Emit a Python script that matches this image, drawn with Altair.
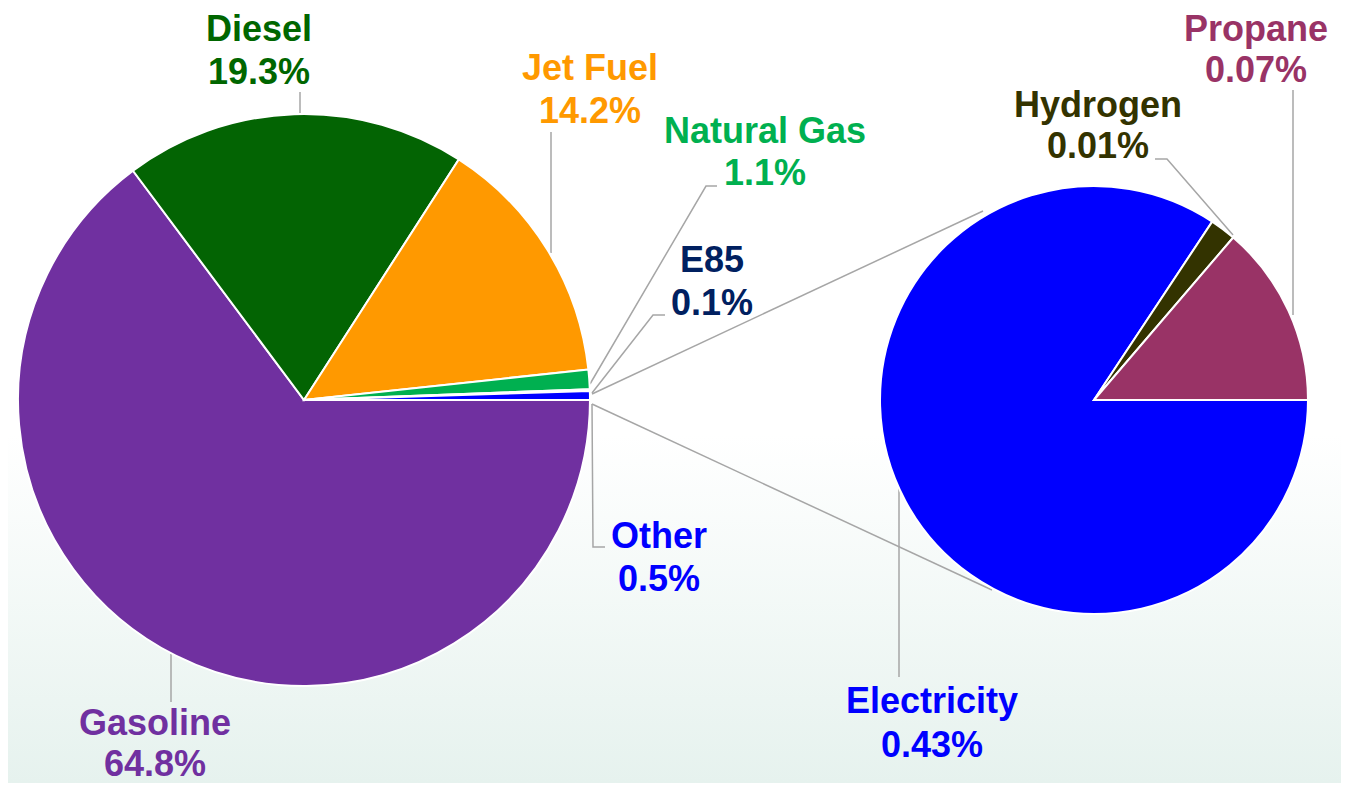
import math
import altair as alt
import pandas as pd

# ---------------- data ----------------
main_categories = ["Gasoline", "Diesel", "Jet Fuel", "Natural Gas", "E85", "Other"]
main_values = [64.8, 19.3, 14.2, 1.1, 0.1, 0.5]
main_colors = ["#7030A0", "#036403", "#FF9900", "#00B050", "#002060", "#0000FF"]

sub_categories = ["Electricity", "Hydrogen", "Propane"]
sub_values = [0.43, 0.01, 0.07]
sub_colors = ["#0000FF", "#333300", "#993366"]

# ---------------- layout (page pixels minus 8px margin) ----------------
W, H = 1333, 775
M = 8
main_center = (304 - M, 400 - M)
main_radius = 286
sub_center = (1094 - M, 400 - M)
sub_radius = 214

# label anchor: centre x, first baseline, second baseline (page coords)
label_pos = {
    "Gasoline": (155, 735, 776),
    "Diesel": (259, 41, 84),
    "Jet Fuel": (590, 80, 123),
    "Natural Gas": (765, 143, 185),
    "E85": (712, 272, 315),
    "Other": (659, 548, 591),
    "Electricity": (932, 713, 757),
    "Hydrogen": (1098, 117, 158),
    "Propane": (1256, 41, 82),
}
text_colors = {
    "Gasoline": "#7030A0", "Diesel": "#006600", "Jet Fuel": "#FF9900",
    "Natural Gas": "#00B050", "E85": "#002060", "Other": "#0000FF",
    "Electricity": "#0000FF", "Hydrogen": "#333300", "Propane": "#993366",
}
# leader lines and connector lines (page coords)
leader_paths = {
    "Gasoline": [(171, 654), (171, 702)],
    "Diesel": [(300, 113), (300, 92)],
    "Jet Fuel": [(551, 253), (551, 132)],
    "Natural Gas": [(590, 384), (706, 186), (717, 186)],
    "E85": [(592, 393), (653, 315), (665, 315)],
    "Other": [(592, 404), (593, 547), (605, 547)],
    "Electricity": [(899, 488), (899, 677)],
    "Hydrogen": [(1233, 235), (1167, 159), (1155, 159)],
    "Propane": [(1293, 315), (1293, 90)],
    "conn_top": [(592, 394), (983, 211)],
    "conn_bottom": [(592, 404), (992, 590)],
}

# ---------------- tables ----------------
main_df = pd.DataFrame({
    "cat": main_categories, "value": main_values, "color": main_colors,
    "ord": list(range(len(main_categories))),
})
sub_df = pd.DataFrame({
    "cat": sub_categories, "value": sub_values, "color": sub_colors,
    "ord": list(range(len(sub_categories))),
})

lab_rows = []
for c, v in zip(main_categories, main_values):
    lab_rows.append((c, f"{v:.1f}%"))
for c, v in zip(sub_categories, sub_values):
    lab_rows.append((c, f"{v:.2f}%"))
lab_df = pd.DataFrame([{
    "cat": c, "pct": p,
    "px": label_pos[c][0] - M, "py1": label_pos[c][1] - M, "py2": label_pos[c][2] - M,
    "tc": text_colors[c],
} for c, p in lab_rows])

line_rows = []
for k, pts in leader_paths.items():
    for i, (x, y) in enumerate(pts):
        line_rows.append({"seg": k, "i": i, "px": x - M, "py": y - M})
line_df = pd.DataFrame(line_rows)

xs = alt.Scale(domain=[0, W], range=[0, W], nice=False, zero=False)
ys = alt.Scale(domain=[0, H], range=[0, H], nice=False, zero=False)

# ---------------- layers ----------------
bg = alt.Chart(pd.DataFrame({"a": [0]})).mark_rect(
    color=alt.Gradient(
        gradient="linear", x1=0, x2=0, y1=0, y2=1,
        stops=[alt.GradientStop(color="#FFFFFF", offset=0),
               alt.GradientStop(color="#FFFFFF", offset=0.55),
               alt.GradientStop(color="#E6F2EE", offset=1)],
    )
).encode(x=alt.value(0), x2=alt.value(W), y=alt.value(0), y2=alt.value(H))

lines = alt.Chart(line_df).mark_line(color="#A6A6A6", strokeWidth=1.5).encode(
    x=alt.X("px:Q", scale=xs, axis=None),
    y=alt.Y("py:Q", scale=ys, axis=None),
    detail="seg:N",
    order="i:Q",
)

arc_main = alt.Chart(main_df).mark_arc(
    radius=main_radius, stroke="white", strokeWidth=2
).encode(
    theta=alt.Theta("value:Q", stack=True,
                    scale=alt.Scale(range=[math.pi / 2, 5 * math.pi / 2])),
    color=alt.Color("color:N", scale=None),
    order=alt.Order("ord:Q"),
    x=alt.value(main_center[0]),
    y=alt.value(main_center[1]),
)

arc_sub = alt.Chart(sub_df).mark_arc(
    radius=sub_radius, stroke="white", strokeWidth=2
).encode(
    theta=alt.Theta("value:Q", stack=True,
                    scale=alt.Scale(range=[math.pi / 2, 5 * math.pi / 2])),
    color=alt.Color("color:N", scale=None),
    order=alt.Order("ord:Q"),
    x=alt.value(sub_center[0]),
    y=alt.value(sub_center[1]),
)

font = "Liberation Sans"
txt_name = alt.Chart(lab_df).mark_text(
    font=font, fontSize=36, fontWeight="bold", align="center", baseline="alphabetic"
).encode(
    x=alt.X("px:Q", scale=xs, axis=None),
    y=alt.Y("py1:Q", scale=ys, axis=None),
    text="cat:N",
    color=alt.Color("tc:N", scale=None),
)
txt_pct = alt.Chart(lab_df).mark_text(
    font=font, fontSize=36, fontWeight="bold", align="center", baseline="alphabetic"
).encode(
    x=alt.X("px:Q", scale=xs, axis=None),
    y=alt.Y("py2:Q", scale=ys, axis=None),
    text="pct:N",
    color=alt.Color("tc:N", scale=None),
)

chart = alt.layer(bg, lines, arc_main, arc_sub, txt_name, txt_pct).resolve_scale(
    theta="independent"
).properties(
    width=W, height=H, padding=0, autosize="none", background="white"
).configure_view(stroke=None)

chart.save("out.html", embed_options={"renderer": "svg", "actions": False})
